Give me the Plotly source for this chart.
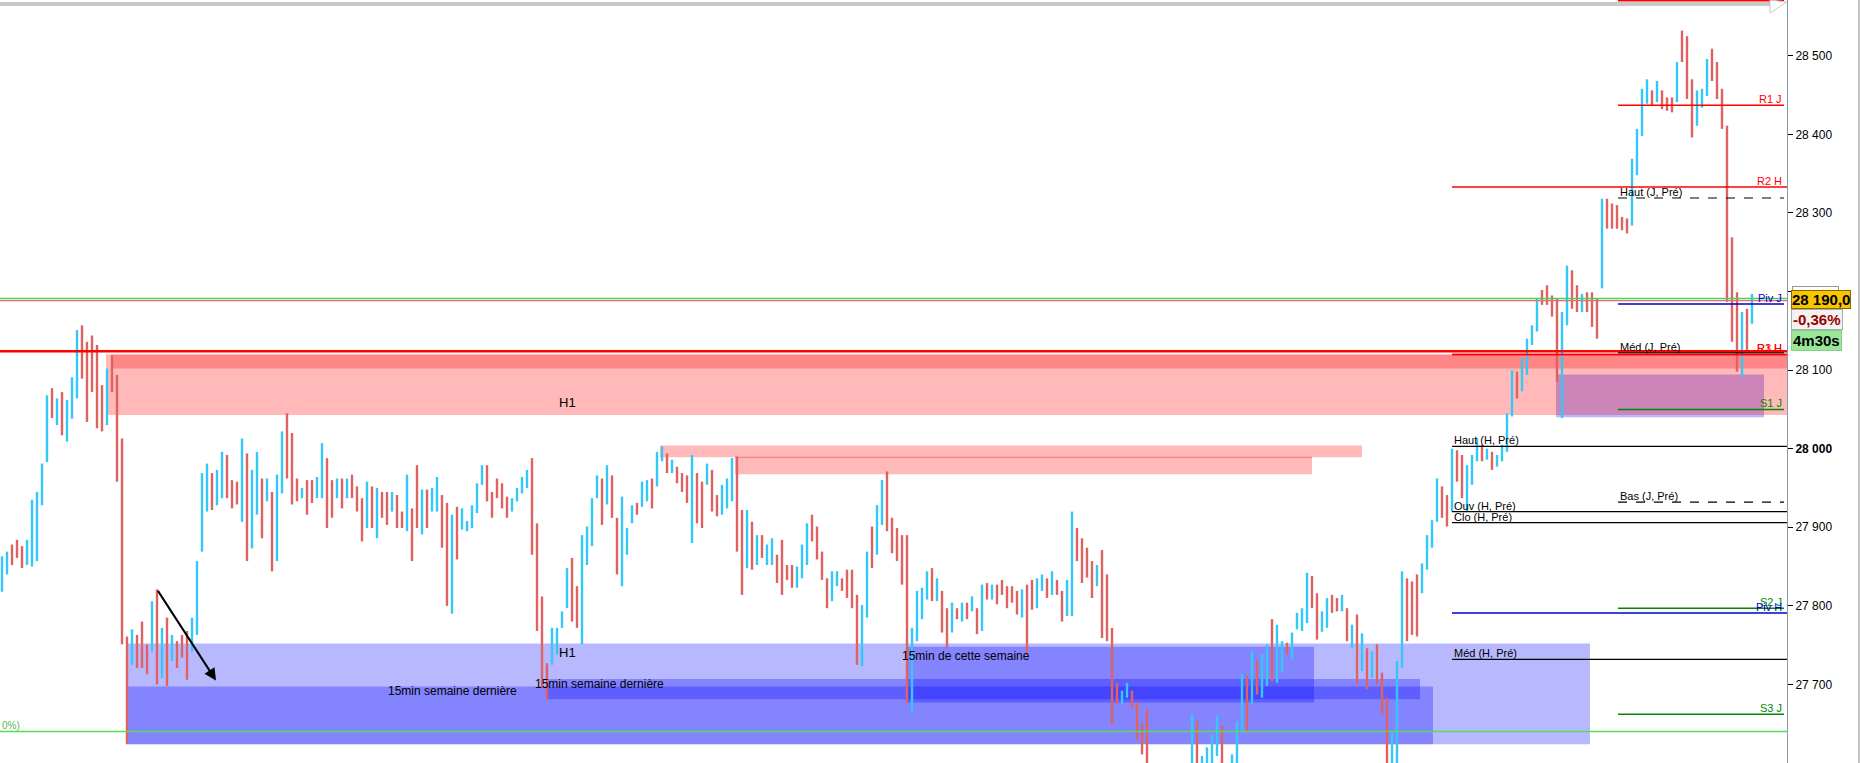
import plotly.graph_objects as go

# ---- price bars, left to right (one bar per ~5 px of the original) ----
highs = [
    27863, 27869, 27878, 27884, 27876, 27884, 27935, 27945, 27981, 28068,
    28077, 28064, 28072, 28062, 28091, 28151, 28157, 28136, 28144, 28132,
    28081, 28102, 28119, 28094, 28013, 27761, 27770, 27763, 27780, 27751,
    27806, 27821, 27772, 27785, 27763, 27755, 27763, 27768, 27785, 27857,
    27969, 27981, 27969, 27973, 27996, 27992, 27960, 27958, 28013, 27994,
    27973, 27996, 27962, 27962, 27945, 27967, 28022, 28045, 28020, 27962,
    27950, 27960, 27960, 27964, 28007, 27988, 27960, 27962, 27962, 27962,
    27967, 27952, 27937, 27958, 27952, 27950, 27945, 27945, 27945, 27941,
    27920, 27967, 27924, 27979, 27948, 27948, 27950, 27964, 27941, 27931,
    27916, 27926, 27924, 27908, 27928, 27956, 27979, 27979, 27945, 27962,
    27956, 27939, 27937, 27950, 27964, 27973, 27988, 27905, 27812, 27727,
    27772, 27772, 27793, 27848, 27861, 27825, 27890, 27901, 27937, 27966,
    27962, 27979, 27966, 27912, 27939, 27899, 27928, 27931, 27958, 27960,
    27962, 27996, 28003, 27994, 27986, 27977, 27969, 27966, 27992, 27969,
    27958, 27981, 27973, 27941, 27954, 27962, 27988, 27990, 27922, 27922,
    27907, 27890, 27890, 27878, 27886, 27865, 27884, 27852, 27852, 27850,
    27878, 27905, 27916, 27901, 27869, 27835, 27844, 27844, 27835, 27846,
    27846, 27814, 27801, 27869, 27901, 27928, 27960, 27971, 27912, 27899,
    27890, 27890, 27772, 27819, 27823, 27844, 27848, 27835, 27819, 27797,
    27804, 27797, 27804, 27804, 27812, 27797, 27827, 27829, 27827, 27827,
    27833, 27825, 27825, 27819, 27821, 27827, 27833, 27835, 27840, 27835,
    27844, 27833, 27819, 27833, 27920, 27899, 27886, 27874, 27857, 27852,
    27871, 27840, 27772, 27702, 27692, 27702, 27692, 27677, 27651, 27668,
    27595, 27590, 27585, 27580, 27590, 27595, 27598, 27600, 27662, 27653,
    27609, 27620, 27636, 27660, 27647, 27598, 27611, 27653, 27713, 27711,
    27742, 27730, 27738, 27751, 27783, 27776, 27755, 27753, 27766, 27791,
    27797, 27842, 27838, 27816, 27793, 27810, 27814, 27810, 27814, 27797,
    27776, 27789, 27765, 27746, 27742, 27751, 27715, 27683, 27640, 27730,
    27844, 27835, 27831, 27840, 27854, 27890, 27909, 27962, 27952, 27941,
    28000, 27998, 27992, 27979, 27992, 28013, 28005, 28000, 27996, 27992,
    28005, 28045, 28100, 28098, 28115, 28140, 28157, 28191, 28202, 28208,
    28195, 28191, 28174, 28233, 28227, 28208, 28197, 28199, 28199, 28191,
    28318, 28318, 28312, 28310, 28295, 28293, 28369, 28407, 28458, 28470,
    28456, 28468, 28456, 28447, 28447, 28492, 28532, 28525, 28470, 28456,
    28458, 28496, 28509, 28492, 28458, 28411, 28269, 28199, 28174, 28178,
    28197,
]
lows = [
    27818, 27840, 27852, 27861, 27848, 27852, 27850, 27857, 27928, 27983,
    28039, 28030, 28017, 28009, 28038, 28064, 28089, 28034, 28072, 28026,
    28022, 28030, 28072, 27958, 27751, 27624, 27725, 27721, 27721, 27713,
    27742, 27700, 27708, 27698, 27730, 27721, 27734, 27706, 27742, 27763,
    27869, 27920, 27922, 27928, 27937, 27937, 27924, 27929, 27907, 27857,
    27873, 27916, 27886, 27933, 27844, 27857, 27943, 27962, 27929, 27933,
    27937, 27916, 27931, 27937, 27937, 27899, 27912, 27937, 27924, 27937,
    27937, 27920, 27882, 27899, 27899, 27886, 27912, 27903, 27920, 27899,
    27899, 27895, 27857, 27899, 27891, 27899, 27920, 27920, 27874, 27800,
    27790, 27859, 27897, 27895, 27899, 27918, 27954, 27933, 27912, 27937,
    27924, 27912, 27920, 27933, 27943, 27950, 27865, 27768, 27696, 27681,
    27725, 27738, 27772, 27797, 27780, 27772, 27751, 27852, 27876, 27937,
    27903, 27929, 27912, 27840, 27825, 27865, 27905, 27916, 27926, 27933,
    27924, 27952, 27984, 27969, 27969, 27956, 27945, 27931, 27880, 27905,
    27899, 27954, 27920, 27914, 27916, 27924, 27933, 27869, 27814, 27848,
    27846, 27852, 27861, 27852, 27852, 27829, 27814, 27833, 27823, 27823,
    27835, 27852, 27882, 27859, 27833, 27797, 27806, 27825, 27819, 27810,
    27797, 27725, 27723, 27785, 27848, 27865, 27903, 27895, 27867, 27857,
    27827, 27677, 27666, 27755, 27783, 27808, 27806, 27806, 27766, 27747,
    27766, 27783, 27780, 27783, 27793, 27764, 27768, 27808, 27808, 27802,
    27814, 27797, 27804, 27789, 27785, 27740, 27795, 27797, 27819, 27810,
    27814, 27814, 27780, 27787, 27787, 27857, 27829, 27836, 27810, 27825,
    27759, 27755, 27649, 27675, 27675, 27683, 27670, 27630, 27611, 27590,
    27560, 27550, 27545, 27540, 27550, 27555, 27560, 27565, 27590, 27585,
    27570, 27580, 27585, 27609, 27590, 27560, 27575, 27595, 27639, 27639,
    27675, 27687, 27683, 27698, 27704, 27702, 27715, 27738, 27732, 27770,
    27768, 27778, 27797, 27757, 27767, 27772, 27791, 27793, 27793, 27755,
    27746, 27700, 27717, 27694, 27708, 27700, 27662, 27590, 27585, 27590,
    27721, 27755, 27763, 27761, 27816, 27846, 27874, 27907, 27912, 27901,
    27920, 27958, 27937, 27920, 27954, 27984, 27984, 27986, 27973, 27977,
    27984, 27996, 28041, 28064, 28073, 28094, 28132, 28149, 28183, 28183,
    28168, 28085, 28039, 28157, 28178, 28174, 28174, 28174, 28155, 28140,
    28204, 28280, 28280, 28280, 28278, 28274, 28284, 28348, 28398, 28439,
    28437, 28441, 28432, 28430, 28428, 28441, 28492, 28445, 28396, 28411,
    28434, 28449, 28468, 28445, 28407, 28187, 28136, 28098, 28092, 28123,
    28159,
]
# u = rising bar (blue), d = falling bar (red)
direction = (
    "uuddduuuuu" "duduuudddd" "dudddduddd" "udududdduu" "uuduudddud"
    "uududuuddd" "udduuddudu" "dddududdud" "dudduduudd" "uduuuuuddd"
    "dduuuudddd" "uuuudduuuu" "dudduuuduu" "duududddud" "dudduuuddu"
    "duduuddddu" "uudddduudd" "dduuduuddd" "dduuuududd" "ududududud"
    "ddddudduud" "udduuddddu" "dddduudddd" "ddududuuud" "uuuudduuud"
    "uduuduuduu" "uudduuddud" "udududdduu" "uddduuuudd" "udduuududu"
    "uuuduuuudd" "dduudduddd" "uddddduuuu" "dudddudddu" "uuddddddud"
    "u"
)

# ---- horizontal levels (start bar -> end bar) ----
level_names = ["", "R1 J", "R2 H", "Haut (J, Pré)", "Piv J", "Méd (J, Pré)", "R3 H", "R1 H",
               "S1 J", "Haut (H, Pré)", "Bas (J, Pré)", "Ouv (H, Pré)", "Clo (H, Pré)",
               "S2 J", "Piv H", "Méd (H, Pré)", "S3 J"]
level_prices = [28570, 28437, 28333, 28319, 28184, 28122, 28120, 28120,
                28050, 28003, 27932, 27920, 27906, 27797, 27791, 27732, 27662]
level_start = [323.2, 323.2, 290, 323.2, 323.2, 323.2, 290, 290,
               323.2, 290, 323.2, 290, 290, 323.2, 290, 290, 323.2]
level_end = [356.4, 356.4, 357, 356.4, 356.4, 356.4, 357, 357,
             356.4, 357, 356.4, 357, 357, 356.4, 357, 357, 356.4]

# lines across the whole chart
full_prices = [28191, 28188.5, 28124, 27640]

# ---- zones: start bar, end bar, low, high ----
supply_start = [20.8, 21.8, 131.6, 146.6]
supply_end = [357, 357, 272, 262]
supply_low = [28043, 28102, 27989, 27967.5]
supply_high = [28120, 28120, 28004, 27989]

demand_start = [25, 25, 109, 181, 310.8]
demand_end = [317.6, 286.2, 283.6, 262.4, 352.4]
demand_low = [27624, 27624, 27681, 27677, 28040]
demand_high = [27752, 27697.5, 27707, 27748, 28094.5]

# ---- text notes on the chart ----
note_texts = ["H1", "H1", "15min semaine dernière", "15min semaine dernière",
              "15min de cette semaine", "0%)"]
note_x = [113, 113, 76.8, 106.2, 179.6, -0.4]
note_y = [28059, 27741, 27691, 27701, 27736, 27648]

arrow_from = (31, 27821)
arrow_to = (42.8, 27705)

last_price = "28 190,0"
change_pct = "-0,36%"
bar_timer = "4m30s"
prev_quote = "28 191,2"

tick_vals = [27600, 27700, 27800, 27900, 28000, 28100, 28200, 28300, 28400, 28500]
tick_text = ["27 600", "27 700", "27 800", "27 900", "<b>28 000</b>", "28 100",
             "28 200", "28 300", "28 400", "28 500"]

# ---- styles ----
UP = "#33C8F8"
DOWN = "#DE6262"
level_style = {
    "": ("#FF0000", "solid"), "R1 J": ("#FF0000", "solid"), "R2 H": ("#FF0000", "solid"),
    "Haut (J, Pré)": ("black", "dash"), "Piv J": ("#0000CC", "solid"),
    "Méd (J, Pré)": ("black", "solid"), "R3 H": ("#FF0000", "solid"), "R1 H": ("#FF0000", "solid"),
    "S1 J": ("#008800", "solid"), "Haut (H, Pré)": ("black", "solid"),
    "Bas (J, Pré)": ("black", "dash"), "Ouv (H, Pré)": ("black", "solid"),
    "Clo (H, Pré)": ("black", "solid"), "S2 J": ("#008800", "solid"),
    "Piv H": ("#0000CC", "solid"), "Méd (H, Pré)": ("black", "solid"),
    "S3 J": ("#008800", "solid"),
}
full_style = [("#55CC55", 1.5), ("#E07070", 1.2), ("#FF0000", 2.5), ("#55DD55", 1.5)]
FONT = "Arial, Liberation Sans, sans-serif"

# ---- bars as vertical segments ----
xs_up, ys_up, xs_dn, ys_dn = [], [], [], []
for i, (h, l, d) in enumerate(zip(highs, lows, direction)):
    if d == "u":
        xs_up += [i, i, None]
        ys_up += [l, h, None]
    else:
        xs_dn += [i, i, None]
        ys_dn += [h, l, None]

fig = go.Figure()
fig.add_trace(go.Scatter(x=xs_up, y=ys_up, mode="lines", line=dict(color=UP, width=2.4),
                         hoverinfo="skip", connectgaps=False))
fig.add_trace(go.Scatter(x=xs_dn, y=ys_dn, mode="lines", line=dict(color=DOWN, width=2.4),
                         hoverinfo="skip", connectgaps=False))

shapes = []
# zones (below the bars); blue first, red drawn over it
for x0, x1, y0, y1 in zip(demand_start, demand_end, demand_low, demand_high):
    shapes.append(dict(type="rect", xref="x", yref="y", x0=x0, x1=x1, y0=y0, y1=y1,
                       fillcolor="rgba(0,0,255,0.28)", line_width=0, layer="below"))
for x0, x1, y0, y1 in zip(supply_start, supply_end, supply_low, supply_high):
    shapes.append(dict(type="rect", xref="x", yref="y", x0=x0, x1=x1, y0=y0, y1=y1,
                       fillcolor="rgba(255,0,0,0.275)", line_width=0, layer="below"))
shapes.append(dict(type="line", xref="x", yref="y", x0=supply_start[3], x1=supply_end[3],
                   y0=supply_high[3], y1=supply_high[3], line=dict(color="#F07878", width=1),
                   layer="below"))

# full-width lines
for p, (c, w) in zip(full_prices, full_style):
    shapes.append(dict(type="line", xref="paper", yref="y", x0=0, x1=1, y0=p, y1=p,
                       line=dict(color=c, width=w)))

# levels
annotations = []
for name, p, x0, x1 in zip(level_names, level_prices, level_start, level_end):
    c, dash = level_style[name]
    w = 1.5 if c != "black" else 1.2
    shapes.append(dict(type="line", xref="x", yref="y", x0=x0, x1=x1, y0=p, y1=p,
                       line=dict(color=c, width=w, dash=dash)))
    if not name:
        continue
    if "(" in name:
        annotations.append(dict(x=x0, y=p, xref="x", yref="y", text=name, showarrow=False,
                                xanchor="left", yanchor="bottom", yshift=-2,
                                font=dict(family=FONT, size=11, color="black")))
    else:
        annotations.append(dict(x=356.4, y=p, xref="x", yref="y", text=name, showarrow=False,
                                xanchor="right", yanchor="bottom", yshift=-2,
                                font=dict(family=FONT, size=11, color=c)))

# notes
for t, x, y in zip(note_texts, note_x, note_y):
    if t == "H1":
        annotations.append(dict(x=x, y=y, text=t, showarrow=False, xanchor="center",
                                font=dict(family=FONT, size=13, color="black")))
    elif t == "0%)":
        annotations.append(dict(x=x, y=y, text=t, showarrow=False, xanchor="left",
                                font=dict(family=FONT, size=10, color="#55BB55")))
    else:
        annotations.append(dict(x=x, y=y, text=t, showarrow=False, xanchor="left",
                                font=dict(family=FONT, size=12, color="black")))

# arrow
annotations.append(dict(x=arrow_to[0], y=arrow_to[1], ax=arrow_from[0], ay=arrow_from[1],
                        xref="x", yref="y", axref="x", ayref="y", text="", showarrow=True,
                        arrowhead=2, arrowsize=1.2, arrowwidth=2, arrowcolor="black"))

# price boxes on the right
annotations.append(dict(x=1, y=28197, xref="paper", yref="y", xanchor="left", xshift=5,
                        text=prev_quote, showarrow=False, bgcolor="white",
                        bordercolor="#999999", borderwidth=1, borderpad=1,
                        font=dict(family=FONT, size=11, color="#44AA44")))
annotations.append(dict(x=1, y=28190, xref="paper", yref="y", xanchor="left", xshift=4,
                        text="<b>%s</b>" % last_price, showarrow=False, bgcolor="#F7C600",
                        bordercolor="#8A6A00", borderwidth=1, borderpad=0,
                        font=dict(family=FONT, size=15, color="black")))
annotations.append(dict(x=1, y=28164, xref="paper", yref="y", xanchor="left", xshift=4,
                        text="<b>%s</b>" % change_pct, showarrow=False, bgcolor="#F2F2F2",
                        bordercolor="#AAAAAA", borderwidth=1, borderpad=1,
                        font=dict(family=FONT, size=15, color="#990000")))
annotations.append(dict(x=1, y=28138, xref="paper", yref="y", xanchor="left", xshift=4,
                        text="<b>%s</b>" % bar_timer, showarrow=False, bgcolor="#99E699",
                        bordercolor="#88CC88", borderwidth=1, borderpad=1,
                        font=dict(family=FONT, size=15, color="black")))

# scrollbar at the top and frame on the right
shapes.append(dict(type="rect", xref="paper", yref="paper", x0=0, x1=1770 / 1787,
                   y0=1 - 6 / 763, y1=1 - 2 / 763, fillcolor="#C8C8C8", line_width=0))
shapes.append(dict(type="path", xref="paper", yref="paper",
                   path="M 0.9905 1.0 L 1.0 0.9974 L 0.9905 0.983 Z",
                   fillcolor="white", line=dict(color="#C8C8C8", width=1)))
shapes.append(dict(type="line", xref="paper", yref="paper", x0=1859 / 1787, x1=1859 / 1787,
                   y0=0, y1=1, line=dict(color="#888888", width=1)))

fig.update_layout(
    width=1860, height=763,
    margin=dict(l=0, r=73, t=0, b=0),
    paper_bgcolor="white", plot_bgcolor="white",
    showlegend=False,
    font=dict(family=FONT, size=12, color="black"),
    xaxis=dict(visible=False, range=[-0.4, 357]),
    yaxis=dict(side="right", range=[27600, 28571], tickvals=tick_vals, ticktext=tick_text,
               showgrid=False, zeroline=False, showline=True, linecolor="#8899AA",
               ticks="outside", ticklen=5, tickcolor="black",
               tickfont=dict(family=FONT, size=12, color="black")),
    shapes=shapes,
    annotations=annotations,
)

fig.write_html("out.html", config={"displayModeBar": False},
               post_script="document.body.style.margin='0';document.body.style.overflow='hidden';")
